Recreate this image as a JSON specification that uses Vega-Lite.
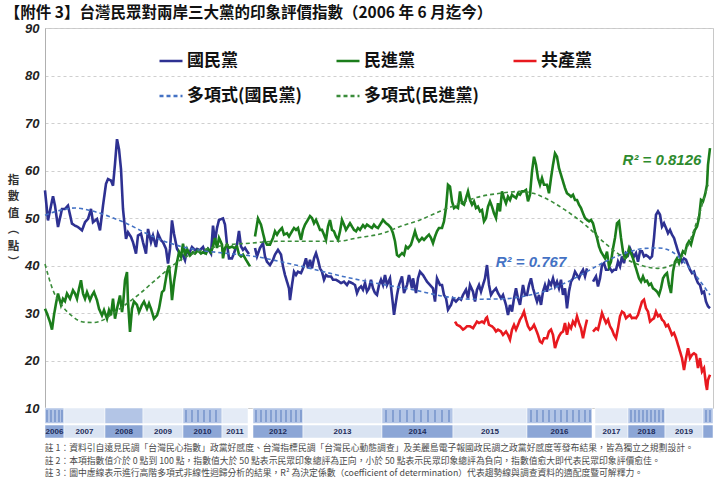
{
  "$schema": "https://vega.github.io/schema/vega-lite/v6.json",
  "background": "white",
  "padding": {"left": 4, "top": 6, "right": 0, "bottom": 0},
  "bounds": "flush",
  "spacing": 0,
  "title": {
    "text": "【附件 3】台灣民眾對兩岸三大黨的印象評價指數（2006 年 6 月迄今）",
    "anchor": "start",
    "fontSize": 15.5,
    "fontWeight": "bold",
    "color": "#111111",
    "font": "Noto Sans CJK TC",
    "offset": 0,
    "dx": -2
  },
  "datasets": {
    "obs": [
      {"i":0,"v":55.8,"s":"國民黨","g":"K1"},{"i":3,"v":49.5,"s":"國民黨","g":"K1"},{"i":8,"v":54.6,"s":"國民黨","g":"K1"},{"i":10,"v":52.6,"s":"國民黨","g":"K1"},{"i":13,"v":48.1,"s":"國民黨","g":"K1"},{"i":17,"v":51.9,"s":"國民黨","g":"K1"},{"i":20,"v":51.9,"s":"國民黨","g":"K1"},{"i":23,"v":52.6,"s":"國民黨","g":"K1"},{"i":27,"v":48.8,"s":"國民黨","g":"K1"},{"i":30,"v":48.4,"s":"國民黨","g":"K1"},{"i":33,"v":48.1,"s":"國民黨","g":"K1"},{"i":37,"v":47.4,"s":"國民黨","g":"K1"},{"i":40,"v":49.1,"s":"國民黨","g":"K1"},{"i":43,"v":49.8,"s":"國民黨","g":"K1"},{"i":46,"v":51.9,"s":"國民黨","g":"K1"},{"i":48,"v":49.1,"s":"國民黨","g":"K1"},{"i":52,"v":49.8,"s":"國民黨","g":"K1"},{"i":55,"v":47.4,"s":"國民黨","g":"K1"},{"i":58,"v":52.6,"s":"國民黨","g":"K1"},{"i":61,"v":57.2,"s":"國民黨","g":"K1"},{"i":63,"v":58.2,"s":"國民黨","g":"K1"},{"i":66,"v":57.9,"s":"國民黨","g":"K1"},{"i":68,"v":56.8,"s":"國民黨","g":"K1"},{"i":70,"v":61.4,"s":"國民黨","g":"K1"},{"i":72,"v":66.6,"s":"國民黨","g":"K1"},{"i":74,"v":64.5,"s":"國民黨","g":"K1"},{"i":76,"v":60.3,"s":"國民黨","g":"K1"},{"i":78,"v":51.9,"s":"國民黨","g":"K1"},{"i":81,"v":45.6,"s":"國民黨","g":"K1"},{"i":83,"v":47.0,"s":"國民黨","g":"K1"},{"i":86,"v":46.0,"s":"國民黨","g":"K1"},{"i":88,"v":44.9,"s":"國民黨","g":"K1"},{"i":91,"v":42.5,"s":"國民黨","g":"K1"},{"i":93,"v":46.3,"s":"國民黨","g":"K1"},{"i":96,"v":46.7,"s":"國民黨","g":"K1"},{"i":98,"v":44.9,"s":"國民黨","g":"K1"},{"i":101,"v":42.5,"s":"國民黨","g":"K1"},{"i":103,"v":47.7,"s":"國民黨","g":"K1"},{"i":106,"v":44.9,"s":"國民黨","g":"K1"},{"i":108,"v":46.3,"s":"國民黨","g":"K1"},{"i":111,"v":43.9,"s":"國民黨","g":"K1"},{"i":113,"v":46.7,"s":"國民黨","g":"K1"},{"i":116,"v":45.3,"s":"國民黨","g":"K1"},{"i":118,"v":44.9,"s":"國民黨","g":"K1"},{"i":121,"v":43.5,"s":"國民黨","g":"K1"},{"i":123,"v":40.4,"s":"國民黨","g":"K1"},{"i":125,"v":43.5,"s":"國民黨","g":"K1"},{"i":127,"v":49.5,"s":"國民黨","g":"K1"},{"i":129,"v":46.7,"s":"國民黨","g":"K1"},{"i":132,"v":43.5,"s":"國民黨","g":"K1"},{"i":135,"v":42.5,"s":"國民黨","g":"K1"},{"i":138,"v":42.1,"s":"國民黨","g":"K1"},{"i":140,"v":41.1,"s":"國民黨","g":"K1"},{"i":142,"v":43.2,"s":"國民黨","g":"K1"},{"i":144,"v":42.5,"s":"國民黨","g":"K1"},{"i":147,"v":43.9,"s":"國民黨","g":"K1"},{"i":150,"v":43.2,"s":"國民黨","g":"K1"},{"i":152,"v":43.5,"s":"國民黨","g":"K1"},{"i":155,"v":43.2,"s":"國民黨","g":"K1"},{"i":158,"v":43.9,"s":"國民黨","g":"K1"},{"i":160,"v":42.8,"s":"國民黨","g":"K1"},{"i":163,"v":43.5,"s":"國民黨","g":"K1"},{"i":166,"v":42.5,"s":"國民黨","g":"K1"},{"i":168,"v":48.4,"s":"國民黨","g":"K1"},{"i":170,"v":45.1,"s":"國民黨","g":"K1"},{"i":172,"v":47.9,"s":"國民黨","g":"K1"},{"i":174,"v":49.6,"s":"國民黨","g":"K1"},{"i":178,"v":49.9,"s":"國民黨","g":"K1"},{"i":180,"v":48.6,"s":"國民黨","g":"K1"},{"i":182,"v":44.4,"s":"國民黨","g":"K1"},{"i":184,"v":41.5,"s":"國民黨","g":"K1"},{"i":187,"v":41.5,"s":"國民黨","g":"K1"},{"i":189,"v":42.6,"s":"國民黨","g":"K1"},{"i":192,"v":44.4,"s":"國民黨","g":"K1"},{"i":194,"v":47.3,"s":"國民黨","g":"K1"},{"i":196,"v":44.0,"s":"國民黨","g":"K1"},{"i":198,"v":43.3,"s":"國民黨","g":"K1"},{"i":200,"v":43.7,"s":"國民黨","g":"K1"},{"i":202,"v":43.0,"s":"國民黨","g":"K1"},{"i":204,"v":42.4,"s":"國民黨","g":"K1"},
      {"i":210,"v":43.7,"s":"國民黨","g":"K2"},{"i":212,"v":41.9,"s":"國民黨","g":"K2"},{"i":215,"v":43.7,"s":"國民黨","g":"K2"},{"i":218,"v":44.7,"s":"國民黨","g":"K2"},{"i":220,"v":41.9,"s":"國民黨","g":"K2"},{"i":222,"v":40.8,"s":"國民黨","g":"K2"},{"i":225,"v":40.1,"s":"國民黨","g":"K2"},{"i":228,"v":41.2,"s":"國民黨","g":"K2"},{"i":230,"v":42.3,"s":"國民黨","g":"K2"},{"i":233,"v":43.3,"s":"國民黨","g":"K2"},{"i":236,"v":42.3,"s":"國民黨","g":"K2"},{"i":238,"v":39.8,"s":"國民黨","g":"K2"},{"i":240,"v":38.0,"s":"國民黨","g":"K2"},{"i":242,"v":36.6,"s":"國民黨","g":"K2"},{"i":244,"v":35.2,"s":"國民黨","g":"K2"},{"i":245,"v":32.7,"s":"國民黨","g":"K2"},{"i":247,"v":35.9,"s":"國民黨","g":"K2"},{"i":249,"v":38.7,"s":"國民黨","g":"K2"},{"i":251,"v":38.0,"s":"國民黨","g":"K2"},{"i":253,"v":38.7,"s":"國民黨","g":"K2"},{"i":256,"v":38.4,"s":"國民黨","g":"K2"},{"i":258,"v":39.4,"s":"國民黨","g":"K2"},{"i":261,"v":41.5,"s":"國民黨","g":"K2"},{"i":263,"v":39.4,"s":"國民黨","g":"K2"},{"i":265,"v":41.2,"s":"國民黨","g":"K2"},{"i":267,"v":39.4,"s":"國民黨","g":"K2"},{"i":269,"v":41.5,"s":"國民黨","g":"K2"},{"i":271,"v":42.6,"s":"國民黨","g":"K2"},{"i":273,"v":41.2,"s":"國民黨","g":"K2"},{"i":275,"v":39.4,"s":"國民黨","g":"K2"},{"i":277,"v":38.7,"s":"國民黨","g":"K2"},{"i":279,"v":37.0,"s":"國民黨","g":"K2"},{"i":281,"v":38.0,"s":"國民黨","g":"K2"},{"i":283,"v":37.7,"s":"國民黨","g":"K2"},{"i":286,"v":37.7,"s":"國民黨","g":"K2"},{"i":288,"v":37.0,"s":"國民黨","g":"K2"},{"i":291,"v":37.0,"s":"國民黨","g":"K2"},{"i":294,"v":36.6,"s":"國民黨","g":"K2"},{"i":296,"v":36.3,"s":"國民黨","g":"K2"},{"i":299,"v":36.6,"s":"國民黨","g":"K2"},{"i":302,"v":35.9,"s":"國民黨","g":"K2"},{"i":304,"v":36.6,"s":"國民黨","g":"K2"},{"i":307,"v":36.3,"s":"國民黨","g":"K2"},{"i":310,"v":35.9,"s":"國民黨","g":"K2"},{"i":312,"v":34.2,"s":"國民黨","g":"K2"},{"i":314,"v":35.2,"s":"國民黨","g":"K2"},{"i":316,"v":35.6,"s":"國民黨","g":"K2"},{"i":318,"v":34.9,"s":"國民黨","g":"K2"},{"i":320,"v":36.3,"s":"國民黨","g":"K2"},{"i":322,"v":34.5,"s":"國民黨","g":"K2"},{"i":324,"v":35.2,"s":"國民黨","g":"K2"},{"i":326,"v":37.0,"s":"國民黨","g":"K2"},{"i":328,"v":35.2,"s":"國民黨","g":"K2"},{"i":330,"v":34.2,"s":"國民黨","g":"K2"},{"i":332,"v":33.8,"s":"國民黨","g":"K2"},{"i":334,"v":35.9,"s":"國民黨","g":"K2"},{"i":336,"v":37.0,"s":"國民黨","g":"K2"},{"i":338,"v":35.9,"s":"國民黨","g":"K2"},{"i":340,"v":38.0,"s":"國民黨","g":"K2"},{"i":342,"v":35.9,"s":"國民黨","g":"K2"},{"i":345,"v":37.3,"s":"國民黨","g":"K2"},{"i":348,"v":31.7,"s":"國民黨","g":"K2"},{"i":349,"v":29.6,"s":"國民黨","g":"K2"},{"i":352,"v":33.8,"s":"國民黨","g":"K2"},{"i":354,"v":35.9,"s":"國民黨","g":"K2"},{"i":357,"v":37.7,"s":"國民黨","g":"K2"},{"i":359,"v":34.2,"s":"國民黨","g":"K2"},{"i":362,"v":35.9,"s":"國民黨","g":"K2"},{"i":364,"v":38.0,"s":"國民黨","g":"K2"},{"i":367,"v":35.2,"s":"國民黨","g":"K2"},{"i":368,"v":37.3,"s":"國民黨","g":"K2"},{"i":371,"v":34.2,"s":"國民黨","g":"K2"},{"i":373,"v":37.3,"s":"國民黨","g":"K2"},{"i":375,"v":38.7,"s":"國民黨","g":"K2"},{"i":378,"v":38.0,"s":"國民黨","g":"K2"},{"i":380,"v":37.3,"s":"國民黨","g":"K2"},{"i":382,"v":36.6,"s":"國民黨","g":"K2"},{"i":385,"v":35.9,"s":"國民黨","g":"K2"},{"i":388,"v":35.2,"s":"國民黨","g":"K2"},{"i":390,"v":32.4,"s":"國民黨","g":"K2"},{"i":392,"v":37.3,"s":"國民黨","g":"K2"},{"i":395,"v":35.9,"s":"國民黨","g":"K2"},{"i":397,"v":35.9,"s":"國民黨","g":"K2"},{"i":399,"v":33.8,"s":"國民黨","g":"K2"},{"i":401,"v":33.1,"s":"國民黨","g":"K2"},{"i":403,"v":30.7,"s":"國民黨","g":"K2"},{"i":406,"v":31.7,"s":"國民黨","g":"K2"},{"i":408,"v":33.1,"s":"國民黨","g":"K2"},{"i":411,"v":32.4,"s":"國民黨","g":"K2"},{"i":414,"v":33.1,"s":"國民黨","g":"K2"},{"i":416,"v":32.8,"s":"國民黨","g":"K2"},{"i":418,"v":33.8,"s":"國民黨","g":"K2"},{"i":421,"v":34.9,"s":"國民黨","g":"K2"},{"i":423,"v":33.1,"s":"國民黨","g":"K2"},{"i":425,"v":35.9,"s":"國民黨","g":"K2"},{"i":428,"v":34.5,"s":"國民黨","g":"K2"},{"i":430,"v":32.4,"s":"國民黨","g":"K2"},{"i":432,"v":34.9,"s":"國民黨","g":"K2"},{"i":434,"v":35.9,"s":"國民黨","g":"K2"},{"i":436,"v":34.5,"s":"國民黨","g":"K2"},{"i":438,"v":35.9,"s":"國民黨","g":"K2"},{"i":440,"v":37.3,"s":"國民黨","g":"K2"},{"i":442,"v":40.1,"s":"國民黨","g":"K2"},{"i":444,"v":35.9,"s":"國民黨","g":"K2"},{"i":446,"v":33.8,"s":"國民黨","g":"K2"},{"i":448,"v":34.5,"s":"國民黨","g":"K2"},{"i":451,"v":35.2,"s":"國民黨","g":"K2"},{"i":453,"v":34.2,"s":"國民黨","g":"K2"},{"i":456,"v":33.1,"s":"國民黨","g":"K2"},{"i":458,"v":33.8,"s":"國民黨","g":"K2"},{"i":461,"v":31.7,"s":"國民黨","g":"K2"},{"i":463,"v":29.6,"s":"國民黨","g":"K2"},{"i":465,"v":31.7,"s":"國民黨","g":"K2"},{"i":467,"v":30.3,"s":"國民黨","g":"K2"},{"i":469,"v":33.1,"s":"國民黨","g":"K2"},{"i":471,"v":35.2,"s":"國民黨","g":"K2"},{"i":473,"v":33.1,"s":"國民黨","g":"K2"},{"i":475,"v":31.7,"s":"國民黨","g":"K2"},{"i":478,"v":35.9,"s":"國民黨","g":"K2"},{"i":480,"v":33.8,"s":"國民黨","g":"K2"},{"i":482,"v":33.8,"s":"國民黨","g":"K2"},{"i":484,"v":35.9,"s":"國民黨","g":"K2"},{"i":486,"v":37.3,"s":"國民黨","g":"K2"},{"i":488,"v":35.2,"s":"國民黨","g":"K2"},{"i":490,"v":33.8,"s":"國民黨","g":"K2"},{"i":492,"v":32.4,"s":"國民黨","g":"K2"},{"i":494,"v":33.8,"s":"國民黨","g":"K2"},{"i":496,"v":31.7,"s":"國民黨","g":"K2"},{"i":498,"v":34.5,"s":"國民黨","g":"K2"},{"i":500,"v":35.9,"s":"國民黨","g":"K2"},{"i":502,"v":34.5,"s":"國民黨","g":"K2"},{"i":504,"v":36.6,"s":"國民黨","g":"K2"},{"i":506,"v":35.9,"s":"國民黨","g":"K2"},{"i":508,"v":37.3,"s":"國民黨","g":"K2"},{"i":510,"v":35.6,"s":"國民黨","g":"K2"},{"i":512,"v":36.6,"s":"國民黨","g":"K2"},{"i":514,"v":35.2,"s":"國民黨","g":"K2"},{"i":516,"v":37.0,"s":"國民黨","g":"K2"},{"i":518,"v":33.8,"s":"國民黨","g":"K2"},{"i":520,"v":35.2,"s":"國民黨","g":"K2"},{"i":522,"v":31.0,"s":"國民黨","g":"K2"},{"i":524,"v":34.5,"s":"國民黨","g":"K2"},{"i":526,"v":36.6,"s":"國民黨","g":"K2"},{"i":528,"v":37.3,"s":"國民黨","g":"K2"},{"i":530,"v":38.7,"s":"國民黨","g":"K2"},{"i":532,"v":38.0,"s":"國民黨","g":"K2"},{"i":534,"v":37.3,"s":"國民黨","g":"K2"},{"i":536,"v":38.4,"s":"國民黨","g":"K2"},{"i":538,"v":39.1,"s":"國民黨","g":"K2"},{"i":540,"v":37.7,"s":"國民黨","g":"K2"},{"i":542,"v":39.4,"s":"國民黨","g":"K2"},
      {"i":548,"v":36.6,"s":"國民黨","g":"K3"},{"i":551,"v":37.7,"s":"國民黨","g":"K3"},{"i":553,"v":35.6,"s":"國民黨","g":"K3"},{"i":555,"v":37.3,"s":"國民黨","g":"K3"},{"i":557,"v":40.1,"s":"國民黨","g":"K3"},{"i":559,"v":40.5,"s":"國民黨","g":"K3"},{"i":561,"v":39.1,"s":"國民黨","g":"K3"},{"i":563,"v":39.1,"s":"國民黨","g":"K3"},{"i":565,"v":39.4,"s":"國民黨","g":"K3"},{"i":567,"v":38.7,"s":"國民黨","g":"K3"},{"i":569,"v":39.1,"s":"國民黨","g":"K3"},{"i":571,"v":39.1,"s":"國民黨","g":"K3"},{"i":573,"v":40.8,"s":"國民黨","g":"K3"},{"i":575,"v":39.8,"s":"國民黨","g":"K3"},{"i":577,"v":41.9,"s":"國民黨","g":"K3"},{"i":579,"v":40.5,"s":"國民黨","g":"K3"},{"i":581,"v":42.6,"s":"國民黨","g":"K3"},{"i":583,"v":42.2,"s":"國民黨","g":"K3"},{"i":585,"v":43.6,"s":"國民黨","g":"K3"},{"i":587,"v":42.6,"s":"國民黨","g":"K3"},{"i":589,"v":41.9,"s":"國民黨","g":"K3"},{"i":591,"v":42.6,"s":"國民黨","g":"K3"},{"i":593,"v":40.8,"s":"國民黨","g":"K3"},{"i":595,"v":43.0,"s":"國民黨","g":"K3"},{"i":597,"v":43.0,"s":"國民黨","g":"K3"},{"i":599,"v":41.9,"s":"國民黨","g":"K3"},{"i":601,"v":42.2,"s":"國民黨","g":"K3"},{"i":603,"v":41.9,"s":"國民黨","g":"K3"},{"i":605,"v":41.5,"s":"國民黨","g":"K3"},{"i":607,"v":41.9,"s":"國民黨","g":"K3"},{"i":609,"v":45.8,"s":"國民黨","g":"K3"},{"i":611,"v":50.7,"s":"國民黨","g":"K3"},{"i":613,"v":51.4,"s":"國民黨","g":"K3"},{"i":615,"v":50.7,"s":"國民黨","g":"K3"},{"i":617,"v":48.2,"s":"國民黨","g":"K3"},{"i":619,"v":48.9,"s":"國民黨","g":"K3"},{"i":621,"v":47.9,"s":"國民黨","g":"K3"},{"i":623,"v":46.8,"s":"國民黨","g":"K3"},{"i":625,"v":47.5,"s":"國民黨","g":"K3"},{"i":627,"v":46.5,"s":"國民黨","g":"K3"},{"i":629,"v":45.8,"s":"國民黨","g":"K3"},{"i":631,"v":44.4,"s":"國民黨","g":"K3"},{"i":633,"v":43.0,"s":"國民黨","g":"K3"},{"i":635,"v":41.9,"s":"國民黨","g":"K3"},{"i":637,"v":40.8,"s":"國民黨","g":"K3"},{"i":639,"v":41.5,"s":"國民黨","g":"K3"},{"i":641,"v":41.2,"s":"國民黨","g":"K3"},{"i":643,"v":40.1,"s":"國民黨","g":"K3"},{"i":645,"v":39.1,"s":"國民黨","g":"K3"},{"i":647,"v":38.4,"s":"國民黨","g":"K3"},{"i":649,"v":38.7,"s":"國民黨","g":"K3"},{"i":651,"v":37.3,"s":"國民黨","g":"K3"},{"i":653,"v":36.3,"s":"國民黨","g":"K3"},{"i":655,"v":35.9,"s":"國民黨","g":"K3"},{"i":657,"v":34.2,"s":"國民黨","g":"K3"},{"i":659,"v":34.5,"s":"國民黨","g":"K3"},{"i":661,"v":32.4,"s":"國民黨","g":"K3"},{"i":663,"v":31.4,"s":"國民黨","g":"K3"},{"i":665,"v":31.0,"s":"國民黨","g":"K3"},
      {"i":0,"v":30.9,"s":"民進黨","g":"D1"},{"i":2,"v":29.9,"s":"民進黨","g":"D1"},{"i":5,"v":28.1,"s":"民進黨","g":"D1"},{"i":7,"v":26.5,"s":"民進黨","g":"D1"},{"i":9,"v":29.6,"s":"民進黨","g":"D1"},{"i":11,"v":32.0,"s":"民進黨","g":"D1"},{"i":13,"v":34.1,"s":"民進黨","g":"D1"},{"i":16,"v":31.7,"s":"民進黨","g":"D1"},{"i":18,"v":33.0,"s":"民進黨","g":"D1"},{"i":20,"v":32.5,"s":"民進黨","g":"D1"},{"i":22,"v":34.1,"s":"民進黨","g":"D1"},{"i":25,"v":33.0,"s":"民進黨","g":"D1"},{"i":28,"v":34.8,"s":"民進黨","g":"D1"},{"i":30,"v":34.1,"s":"民進黨","g":"D1"},{"i":32,"v":33.0,"s":"民進黨","g":"D1"},{"i":34,"v":35.1,"s":"民進黨","g":"D1"},{"i":36,"v":36.9,"s":"民進黨","g":"D1"},{"i":38,"v":34.1,"s":"民進黨","g":"D1"},{"i":40,"v":33.0,"s":"民進黨","g":"D1"},{"i":42,"v":34.4,"s":"民進黨","g":"D1"},{"i":45,"v":32.7,"s":"民進黨","g":"D1"},{"i":47,"v":33.7,"s":"民進黨","g":"D1"},{"i":49,"v":34.4,"s":"民進黨","g":"D1"},{"i":52,"v":32.7,"s":"民進黨","g":"D1"},{"i":54,"v":30.9,"s":"民進黨","g":"D1"},{"i":57,"v":29.5,"s":"民進黨","g":"D1"},{"i":59,"v":30.6,"s":"民進黨","g":"D1"},{"i":62,"v":28.8,"s":"民進黨","g":"D1"},{"i":64,"v":30.6,"s":"民進黨","g":"D1"},{"i":66,"v":29.5,"s":"民進黨","g":"D1"},{"i":68,"v":33.0,"s":"民進黨","g":"D1"},{"i":70,"v":28.8,"s":"民進黨","g":"D1"},{"i":72,"v":30.9,"s":"民進黨","g":"D1"},{"i":75,"v":33.7,"s":"民進黨","g":"D1"},{"i":77,"v":30.2,"s":"民進黨","g":"D1"},{"i":78,"v":31.7,"s":"民進黨","g":"D1"},{"i":80,"v":36.9,"s":"民進黨","g":"D1"},{"i":82,"v":38.6,"s":"民進黨","g":"D1"},{"i":83,"v":32.4,"s":"民進黨","g":"D1"},{"i":85,"v":26.0,"s":"民進黨","g":"D1"},{"i":87,"v":30.9,"s":"民進黨","g":"D1"},{"i":89,"v":32.4,"s":"民進黨","g":"D1"},{"i":92,"v":31.7,"s":"民進黨","g":"D1"},{"i":94,"v":30.2,"s":"民進黨","g":"D1"},{"i":97,"v":31.7,"s":"民進黨","g":"D1"},{"i":99,"v":32.4,"s":"民進黨","g":"D1"},{"i":102,"v":30.9,"s":"民進黨","g":"D1"},{"i":104,"v":32.0,"s":"民進黨","g":"D1"},{"i":106,"v":30.9,"s":"民進黨","g":"D1"},{"i":109,"v":28.8,"s":"民進黨","g":"D1"},{"i":112,"v":29.5,"s":"民進黨","g":"D1"},{"i":114,"v":30.9,"s":"民進黨","g":"D1"},{"i":117,"v":34.4,"s":"民進黨","g":"D1"},{"i":119,"v":34.8,"s":"民進黨","g":"D1"},{"i":122,"v":38.6,"s":"民進黨","g":"D1"},{"i":124,"v":40.0,"s":"民進黨","g":"D1"},{"i":126,"v":35.8,"s":"民進黨","g":"D1"},{"i":127,"v":32.7,"s":"民進黨","g":"D1"},{"i":129,"v":36.5,"s":"民進黨","g":"D1"},{"i":132,"v":40.7,"s":"民進黨","g":"D1"},{"i":134,"v":42.8,"s":"民進黨","g":"D1"},{"i":136,"v":41.8,"s":"民進黨","g":"D1"},{"i":138,"v":44.6,"s":"民進黨","g":"D1"},{"i":140,"v":42.1,"s":"民進黨","g":"D1"},{"i":142,"v":43.5,"s":"民進黨","g":"D1"},{"i":145,"v":42.1,"s":"民進黨","g":"D1"},{"i":148,"v":42.8,"s":"民進黨","g":"D1"},{"i":150,"v":42.5,"s":"民進黨","g":"D1"},{"i":153,"v":43.2,"s":"民進黨","g":"D1"},{"i":156,"v":42.5,"s":"民進黨","g":"D1"},{"i":158,"v":42.8,"s":"民進黨","g":"D1"},{"i":161,"v":42.5,"s":"民進黨","g":"D1"},{"i":163,"v":43.5,"s":"民進黨","g":"D1"},{"i":166,"v":42.8,"s":"民進黨","g":"D1"},{"i":168,"v":44.0,"s":"民進黨","g":"D1"},{"i":170,"v":45.8,"s":"民進黨","g":"D1"},{"i":172,"v":43.7,"s":"民進黨","g":"D1"},{"i":174,"v":45.8,"s":"民進黨","g":"D1"},{"i":177,"v":44.4,"s":"民進黨","g":"D1"},{"i":178,"v":41.5,"s":"民進黨","g":"D1"},{"i":180,"v":43.7,"s":"民進黨","g":"D1"},{"i":182,"v":44.4,"s":"民進黨","g":"D1"},{"i":184,"v":43.7,"s":"民進黨","g":"D1"},{"i":187,"v":44.0,"s":"民進黨","g":"D1"},{"i":189,"v":43.7,"s":"民進黨","g":"D1"},{"i":192,"v":44.0,"s":"民進黨","g":"D1"},{"i":194,"v":42.3,"s":"民進黨","g":"D1"},{"i":196,"v":41.9,"s":"民進黨","g":"D1"},{"i":198,"v":42.3,"s":"民進黨","g":"D1"},{"i":201,"v":41.2,"s":"民進黨","g":"D1"},{"i":203,"v":40.5,"s":"民進黨","g":"D1"},{"i":205,"v":39.8,"s":"民進黨","g":"D1"},
      {"i":210,"v":46.1,"s":"民進黨","g":"D2"},{"i":213,"v":49.9,"s":"民進黨","g":"D2"},{"i":216,"v":48.6,"s":"民進黨","g":"D2"},{"i":218,"v":46.8,"s":"民進黨","g":"D2"},{"i":220,"v":45.1,"s":"民進黨","g":"D2"},{"i":222,"v":44.4,"s":"民進黨","g":"D2"},{"i":225,"v":44.4,"s":"民進黨","g":"D2"},{"i":228,"v":45.8,"s":"民進黨","g":"D2"},{"i":230,"v":47.2,"s":"民進黨","g":"D2"},{"i":232,"v":46.5,"s":"民進黨","g":"D2"},{"i":234,"v":47.2,"s":"民進黨","g":"D2"},{"i":237,"v":47.9,"s":"民進黨","g":"D2"},{"i":239,"v":46.5,"s":"民進黨","g":"D2"},{"i":242,"v":46.8,"s":"民進黨","g":"D2"},{"i":244,"v":46.1,"s":"民進黨","g":"D2"},{"i":247,"v":47.2,"s":"民進黨","g":"D2"},{"i":249,"v":47.9,"s":"民進黨","g":"D2"},{"i":251,"v":47.5,"s":"民進黨","g":"D2"},{"i":253,"v":47.9,"s":"民進黨","g":"D2"},{"i":256,"v":45.4,"s":"民進黨","g":"D2"},{"i":258,"v":47.5,"s":"民進黨","g":"D2"},{"i":260,"v":48.6,"s":"民進黨","g":"D2"},{"i":262,"v":49.3,"s":"民進黨","g":"D2"},{"i":265,"v":50.4,"s":"民進黨","g":"D2"},{"i":267,"v":50.0,"s":"民進黨","g":"D2"},{"i":269,"v":48.9,"s":"民進黨","g":"D2"},{"i":271,"v":49.6,"s":"民進黨","g":"D2"},{"i":273,"v":48.6,"s":"民進黨","g":"D2"},{"i":275,"v":47.5,"s":"民進黨","g":"D2"},{"i":277,"v":47.5,"s":"民進黨","g":"D2"},{"i":279,"v":46.5,"s":"民進黨","g":"D2"},{"i":281,"v":45.4,"s":"民進黨","g":"D2"},{"i":283,"v":48.2,"s":"民進黨","g":"D2"},{"i":285,"v":49.6,"s":"民進黨","g":"D2"},{"i":287,"v":47.5,"s":"民進黨","g":"D2"},{"i":289,"v":47.2,"s":"民進黨","g":"D2"},{"i":291,"v":46.1,"s":"民進黨","g":"D2"},{"i":293,"v":45.4,"s":"民進黨","g":"D2"},{"i":295,"v":47.2,"s":"民進黨","g":"D2"},{"i":297,"v":49.6,"s":"民進黨","g":"D2"},{"i":299,"v":48.6,"s":"民進黨","g":"D2"},{"i":301,"v":47.5,"s":"民進黨","g":"D2"},{"i":303,"v":48.2,"s":"民進黨","g":"D2"},{"i":305,"v":48.9,"s":"民進黨","g":"D2"},{"i":307,"v":48.2,"s":"民進黨","g":"D2"},{"i":309,"v":47.5,"s":"民進黨","g":"D2"},{"i":311,"v":47.2,"s":"民進黨","g":"D2"},{"i":313,"v":47.9,"s":"民進黨","g":"D2"},{"i":315,"v":47.5,"s":"民進黨","g":"D2"},{"i":318,"v":48.5,"s":"民進黨","g":"D2"},{"i":320,"v":48.0,"s":"民進黨","g":"D2"},{"i":322,"v":48.6,"s":"民進黨","g":"D2"},{"i":324,"v":48.3,"s":"民進黨","g":"D2"},{"i":327,"v":47.9,"s":"民進黨","g":"D2"},{"i":329,"v":48.6,"s":"民進黨","g":"D2"},{"i":331,"v":48.1,"s":"民進黨","g":"D2"},{"i":333,"v":47.9,"s":"民進黨","g":"D2"},{"i":336,"v":48.9,"s":"民進黨","g":"D2"},{"i":338,"v":49.6,"s":"民進黨","g":"D2"},{"i":341,"v":48.9,"s":"民進黨","g":"D2"},{"i":343,"v":48.6,"s":"民進黨","g":"D2"},{"i":346,"v":47.9,"s":"民進黨","g":"D2"},{"i":348,"v":46.8,"s":"民進黨","g":"D2"},{"i":350,"v":45.1,"s":"民進黨","g":"D2"},{"i":352,"v":42.2,"s":"民進黨","g":"D2"},{"i":354,"v":41.9,"s":"民進黨","g":"D2"},{"i":357,"v":42.6,"s":"民進黨","g":"D2"},{"i":359,"v":42.2,"s":"民進黨","g":"D2"},{"i":361,"v":44.0,"s":"民進黨","g":"D2"},{"i":363,"v":43.6,"s":"民進黨","g":"D2"},{"i":366,"v":44.4,"s":"民進黨","g":"D2"},{"i":368,"v":45.8,"s":"民進黨","g":"D2"},{"i":370,"v":47.2,"s":"民進黨","g":"D2"},{"i":372,"v":45.8,"s":"民進黨","g":"D2"},{"i":374,"v":45.1,"s":"民進黨","g":"D2"},{"i":377,"v":45.8,"s":"民進黨","g":"D2"},{"i":379,"v":45.4,"s":"民進黨","g":"D2"},{"i":382,"v":46.1,"s":"民進黨","g":"D2"},{"i":384,"v":46.5,"s":"民進黨","g":"D2"},{"i":386,"v":45.8,"s":"民進黨","g":"D2"},{"i":388,"v":44.7,"s":"民進黨","g":"D2"},{"i":390,"v":46.1,"s":"民進黨","g":"D2"},{"i":392,"v":47.2,"s":"民進黨","g":"D2"},{"i":394,"v":47.9,"s":"民進黨","g":"D2"},{"i":397,"v":47.9,"s":"民進黨","g":"D2"},{"i":399,"v":49.3,"s":"民進黨","g":"D2"},{"i":401,"v":52.1,"s":"民進黨","g":"D2"},{"i":403,"v":57.0,"s":"民進黨","g":"D2"},{"i":405,"v":56.6,"s":"民進黨","g":"D2"},{"i":407,"v":53.5,"s":"民進黨","g":"D2"},{"i":409,"v":52.1,"s":"民進黨","g":"D2"},{"i":411,"v":52.4,"s":"民進黨","g":"D2"},{"i":413,"v":52.1,"s":"民進黨","g":"D2"},{"i":415,"v":55.6,"s":"民進黨","g":"D2"},{"i":417,"v":53.1,"s":"民進黨","g":"D2"},{"i":419,"v":52.8,"s":"民進黨","g":"D2"},{"i":421,"v":54.2,"s":"民進黨","g":"D2"},{"i":423,"v":55.6,"s":"民進黨","g":"D2"},{"i":425,"v":53.8,"s":"民進黨","g":"D2"},{"i":427,"v":52.8,"s":"民進黨","g":"D2"},{"i":429,"v":53.5,"s":"民進黨","g":"D2"},{"i":431,"v":52.1,"s":"民進黨","g":"D2"},{"i":433,"v":52.4,"s":"民進黨","g":"D2"},{"i":435,"v":51.4,"s":"民進黨","g":"D2"},{"i":437,"v":51.7,"s":"民進黨","g":"D2"},{"i":439,"v":49.3,"s":"民進黨","g":"D2"},{"i":441,"v":50.0,"s":"民進黨","g":"D2"},{"i":443,"v":52.4,"s":"民進黨","g":"D2"},{"i":445,"v":53.5,"s":"民進黨","g":"D2"},{"i":447,"v":52.4,"s":"民進黨","g":"D2"},{"i":449,"v":51.0,"s":"民進黨","g":"D2"},{"i":451,"v":50.0,"s":"民進黨","g":"D2"},{"i":453,"v":53.1,"s":"民進黨","g":"D2"},{"i":455,"v":51.4,"s":"民進黨","g":"D2"},{"i":457,"v":55.6,"s":"民進黨","g":"D2"},{"i":459,"v":54.2,"s":"民進黨","g":"D2"},{"i":461,"v":53.1,"s":"民進黨","g":"D2"},{"i":463,"v":54.5,"s":"民進黨","g":"D2"},{"i":465,"v":53.8,"s":"民進黨","g":"D2"},{"i":467,"v":54.9,"s":"民進黨","g":"D2"},{"i":469,"v":54.5,"s":"民進黨","g":"D2"},{"i":471,"v":54.2,"s":"民進黨","g":"D2"},{"i":473,"v":55.2,"s":"民進黨","g":"D2"},{"i":475,"v":54.9,"s":"民進黨","g":"D2"},{"i":477,"v":55.6,"s":"民進黨","g":"D2"},{"i":479,"v":55.6,"s":"民進黨","g":"D2"},{"i":481,"v":55.9,"s":"民進黨","g":"D2"},{"i":483,"v":53.5,"s":"民進黨","g":"D2"},{"i":485,"v":54.9,"s":"民進黨","g":"D2"},{"i":487,"v":59.8,"s":"民進黨","g":"D2"},{"i":489,"v":62.9,"s":"民進黨","g":"D2"},{"i":491,"v":61.2,"s":"民進黨","g":"D2"},{"i":493,"v":58.4,"s":"民進黨","g":"D2"},{"i":495,"v":57.0,"s":"民進黨","g":"D2"},{"i":497,"v":58.4,"s":"民進黨","g":"D2"},{"i":499,"v":57.0,"s":"民進黨","g":"D2"},{"i":502,"v":57.0,"s":"民進黨","g":"D2"},{"i":504,"v":55.2,"s":"民進黨","g":"D2"},{"i":506,"v":58.4,"s":"民進黨","g":"D2"},{"i":508,"v":61.2,"s":"民進黨","g":"D2"},{"i":510,"v":63.6,"s":"民進黨","g":"D2"},{"i":512,"v":62.9,"s":"民進黨","g":"D2"},{"i":514,"v":60.5,"s":"民進黨","g":"D2"},{"i":516,"v":59.1,"s":"民進黨","g":"D2"},{"i":518,"v":57.7,"s":"民進黨","g":"D2"},{"i":520,"v":56.3,"s":"民進黨","g":"D2"},{"i":522,"v":55.2,"s":"民進黨","g":"D2"},{"i":524,"v":54.9,"s":"民進黨","g":"D2"},{"i":526,"v":54.5,"s":"民進黨","g":"D2"},{"i":528,"v":54.9,"s":"民進黨","g":"D2"},{"i":530,"v":53.8,"s":"民進黨","g":"D2"},{"i":532,"v":53.8,"s":"民進黨","g":"D2"},{"i":534,"v":52.8,"s":"民進黨","g":"D2"},{"i":536,"v":52.1,"s":"民進黨","g":"D2"},{"i":538,"v":51.0,"s":"民進黨","g":"D2"},{"i":540,"v":50.0,"s":"民進黨","g":"D2"},{"i":542,"v":49.6,"s":"民進黨","g":"D2"},{"i":544,"v":49.3,"s":"民進黨","g":"D2"},{"i":546,"v":49.6,"s":"民進黨","g":"D2"},{"i":548,"v":48.9,"s":"民進黨","g":"D2"},{"i":550,"v":47.2,"s":"民進黨","g":"D2"},{"i":552,"v":45.8,"s":"民進黨","g":"D2"},{"i":554,"v":44.0,"s":"民進黨","g":"D2"},{"i":556,"v":42.9,"s":"民進黨","g":"D2"},{"i":558,"v":42.2,"s":"民進黨","g":"D2"},{"i":560,"v":41.5,"s":"民進黨","g":"D2"},{"i":562,"v":42.9,"s":"民進黨","g":"D2"},{"i":564,"v":39.8,"s":"民進黨","g":"D2"},{"i":566,"v":40.8,"s":"民進黨","g":"D2"},{"i":568,"v":43.6,"s":"民進黨","g":"D2"},{"i":570,"v":45.8,"s":"民進黨","g":"D2"},{"i":572,"v":48.9,"s":"民進黨","g":"D2"},{"i":574,"v":49.3,"s":"民進黨","g":"D2"},{"i":576,"v":45.8,"s":"民進黨","g":"D2"},{"i":578,"v":42.9,"s":"民進黨","g":"D2"},{"i":580,"v":41.5,"s":"民進黨","g":"D2"},{"i":582,"v":41.9,"s":"民進黨","g":"D2"},{"i":584,"v":43.6,"s":"民進黨","g":"D2"},{"i":586,"v":42.6,"s":"民進黨","g":"D2"},{"i":588,"v":41.5,"s":"民進黨","g":"D2"},{"i":590,"v":40.1,"s":"民進黨","g":"D2"},{"i":592,"v":38.7,"s":"民進黨","g":"D2"},{"i":594,"v":37.3,"s":"民進黨","g":"D2"},{"i":596,"v":36.6,"s":"民進黨","g":"D2"},{"i":598,"v":37.7,"s":"民進黨","g":"D2"},{"i":600,"v":36.6,"s":"民進黨","g":"D2"},{"i":602,"v":36.8,"s":"民進黨","g":"D2"},{"i":604,"v":35.9,"s":"民進黨","g":"D2"},{"i":606,"v":36.2,"s":"民進黨","g":"D2"},{"i":608,"v":35.2,"s":"民進黨","g":"D2"},{"i":610,"v":34.9,"s":"民進黨","g":"D2"},{"i":612,"v":34.5,"s":"民進黨","g":"D2"},{"i":614,"v":33.8,"s":"民進黨","g":"D2"},{"i":616,"v":35.2,"s":"民進黨","g":"D2"},{"i":618,"v":37.3,"s":"民進黨","g":"D2"},{"i":620,"v":38.0,"s":"民進黨","g":"D2"},{"i":622,"v":38.4,"s":"民進黨","g":"D2"},{"i":624,"v":35.9,"s":"民進黨","g":"D2"},{"i":626,"v":34.2,"s":"民進黨","g":"D2"},{"i":628,"v":38.7,"s":"民進黨","g":"D2"},{"i":630,"v":40.8,"s":"民進黨","g":"D2"},{"i":632,"v":41.5,"s":"民進黨","g":"D2"},{"i":634,"v":40.5,"s":"民進黨","g":"D2"},{"i":636,"v":41.9,"s":"民進黨","g":"D2"},{"i":638,"v":43.0,"s":"民進黨","g":"D2"},{"i":640,"v":42.6,"s":"民進黨","g":"D2"},{"i":642,"v":44.4,"s":"民進黨","g":"D2"},{"i":644,"v":45.1,"s":"民進黨","g":"D2"},{"i":646,"v":44.4,"s":"民進黨","g":"D2"},{"i":648,"v":46.1,"s":"民進黨","g":"D2"},{"i":650,"v":47.5,"s":"民進黨","g":"D2"},{"i":652,"v":48.2,"s":"民進黨","g":"D2"},{"i":654,"v":50.0,"s":"民進黨","g":"D2"},{"i":656,"v":53.8,"s":"民進黨","g":"D2"},{"i":658,"v":53.5,"s":"民進黨","g":"D2"},{"i":660,"v":54.9,"s":"民進黨","g":"D2"},{"i":662,"v":57.0,"s":"民進黨","g":"D2"},{"i":663,"v":61.2,"s":"民進黨","g":"D2"},{"i":665,"v":64.7,"s":"民進黨","g":"D2"},
      {"i":410,"v":28.2,"s":"共產黨","g":"C1"},{"i":412,"v":27.5,"s":"共產黨","g":"C1"},{"i":415,"v":27.2,"s":"共產黨","g":"C1"},{"i":418,"v":26.5,"s":"共產黨","g":"C1"},{"i":420,"v":26.8,"s":"共產黨","g":"C1"},{"i":422,"v":27.2,"s":"共產黨","g":"C1"},{"i":425,"v":27.2,"s":"共產黨","g":"C1"},{"i":428,"v":26.8,"s":"共產黨","g":"C1"},{"i":430,"v":27.5,"s":"共產黨","g":"C1"},{"i":432,"v":28.2,"s":"共產黨","g":"C1"},{"i":434,"v":27.9,"s":"共產黨","g":"C1"},{"i":437,"v":28.2,"s":"共產黨","g":"C1"},{"i":439,"v":27.9,"s":"共產黨","g":"C1"},{"i":441,"v":28.9,"s":"共產黨","g":"C1"},{"i":442,"v":29.1,"s":"共產黨","g":"C1"},{"i":444,"v":27.5,"s":"共產黨","g":"C1"},{"i":447,"v":27.2,"s":"共產黨","g":"C1"},{"i":449,"v":26.8,"s":"共產黨","g":"C1"},{"i":451,"v":26.1,"s":"共產黨","g":"C1"},{"i":453,"v":26.5,"s":"共產黨","g":"C1"},{"i":456,"v":26.1,"s":"共產黨","g":"C1"},{"i":458,"v":25.4,"s":"共產黨","g":"C1"},{"i":461,"v":26.1,"s":"共產黨","g":"C1"},{"i":463,"v":25.4,"s":"共產黨","g":"C1"},{"i":465,"v":24.4,"s":"共產黨","g":"C1"},{"i":467,"v":26.5,"s":"共產黨","g":"C1"},{"i":469,"v":27.5,"s":"共產黨","g":"C1"},{"i":471,"v":26.5,"s":"共產黨","g":"C1"},{"i":473,"v":27.5,"s":"共產黨","g":"C1"},{"i":475,"v":28.6,"s":"共產黨","g":"C1"},{"i":477,"v":29.3,"s":"共產黨","g":"C1"},{"i":479,"v":30.3,"s":"共產黨","g":"C1"},{"i":481,"v":28.6,"s":"共產黨","g":"C1"},{"i":483,"v":27.2,"s":"共產黨","g":"C1"},{"i":485,"v":26.5,"s":"共產黨","g":"C1"},{"i":487,"v":26.8,"s":"共產黨","g":"C1"},{"i":489,"v":27.5,"s":"共產黨","g":"C1"},{"i":491,"v":26.5,"s":"共產黨","g":"C1"},{"i":493,"v":25.4,"s":"共產黨","g":"C1"},{"i":495,"v":24.0,"s":"共產黨","g":"C1"},{"i":497,"v":23.7,"s":"共產黨","g":"C1"},{"i":499,"v":24.7,"s":"共產黨","g":"C1"},{"i":502,"v":24.7,"s":"共產黨","g":"C1"},{"i":504,"v":26.1,"s":"共產黨","g":"C1"},{"i":506,"v":26.5,"s":"共產黨","g":"C1"},{"i":508,"v":25.4,"s":"共產黨","g":"C1"},{"i":510,"v":22.6,"s":"共產黨","g":"C1"},{"i":512,"v":24.0,"s":"共產黨","g":"C1"},{"i":514,"v":25.1,"s":"共產黨","g":"C1"},{"i":516,"v":25.8,"s":"共產黨","g":"C1"},{"i":518,"v":26.1,"s":"共產黨","g":"C1"},{"i":520,"v":27.9,"s":"共產黨","g":"C1"},{"i":522,"v":25.4,"s":"共產黨","g":"C1"},{"i":524,"v":27.5,"s":"共產黨","g":"C1"},{"i":526,"v":26.8,"s":"共產黨","g":"C1"},{"i":528,"v":28.2,"s":"共產黨","g":"C1"},{"i":530,"v":27.5,"s":"共產黨","g":"C1"},{"i":532,"v":29.3,"s":"共產黨","g":"C1"},{"i":534,"v":27.9,"s":"共產黨","g":"C1"},{"i":536,"v":26.8,"s":"共產黨","g":"C1"},{"i":538,"v":24.7,"s":"共產黨","g":"C1"},{"i":540,"v":26.8,"s":"共產黨","g":"C1"},{"i":542,"v":28.6,"s":"共產黨","g":"C1"},
      {"i":548,"v":26.1,"s":"共產黨","g":"C2"},{"i":551,"v":26.8,"s":"共產黨","g":"C2"},{"i":553,"v":26.5,"s":"共產黨","g":"C2"},{"i":555,"v":28.2,"s":"共產黨","g":"C2"},{"i":557,"v":30.0,"s":"共產黨","g":"C2"},{"i":559,"v":28.9,"s":"共產黨","g":"C2"},{"i":561,"v":27.9,"s":"共產黨","g":"C2"},{"i":563,"v":28.6,"s":"共產黨","g":"C2"},{"i":565,"v":27.2,"s":"共產黨","g":"C2"},{"i":567,"v":26.5,"s":"共產黨","g":"C2"},{"i":569,"v":25.4,"s":"共產黨","g":"C2"},{"i":571,"v":24.7,"s":"共產黨","g":"C2"},{"i":573,"v":26.8,"s":"共產黨","g":"C2"},{"i":575,"v":29.3,"s":"共產黨","g":"C2"},{"i":577,"v":30.3,"s":"共產黨","g":"C2"},{"i":579,"v":30.0,"s":"共產黨","g":"C2"},{"i":581,"v":28.9,"s":"共產黨","g":"C2"},{"i":583,"v":29.3,"s":"共產黨","g":"C2"},{"i":585,"v":29.6,"s":"共產黨","g":"C2"},{"i":587,"v":28.9,"s":"共產黨","g":"C2"},{"i":589,"v":29.0,"s":"共產黨","g":"C2"},{"i":591,"v":28.9,"s":"共產黨","g":"C2"},{"i":593,"v":29.6,"s":"共產黨","g":"C2"},{"i":595,"v":31.0,"s":"共產黨","g":"C2"},{"i":597,"v":32.4,"s":"共產黨","g":"C2"},{"i":599,"v":32.8,"s":"共產黨","g":"C2"},{"i":601,"v":31.0,"s":"共產黨","g":"C2"},{"i":603,"v":30.3,"s":"共產黨","g":"C2"},{"i":605,"v":28.2,"s":"共產黨","g":"C2"},{"i":607,"v":28.6,"s":"共產黨","g":"C2"},{"i":609,"v":28.9,"s":"共產黨","g":"C2"},{"i":611,"v":30.3,"s":"共產黨","g":"C2"},{"i":613,"v":29.3,"s":"共產黨","g":"C2"},{"i":615,"v":29.6,"s":"共產黨","g":"C2"},{"i":617,"v":28.6,"s":"共產黨","g":"C2"},{"i":619,"v":28.2,"s":"共產黨","g":"C2"},{"i":621,"v":27.2,"s":"共產黨","g":"C2"},{"i":623,"v":27.5,"s":"共產黨","g":"C2"},{"i":625,"v":26.5,"s":"共產黨","g":"C2"},{"i":627,"v":25.4,"s":"共產黨","g":"C2"},{"i":629,"v":25.8,"s":"共產黨","g":"C2"},{"i":631,"v":24.7,"s":"共產黨","g":"C2"},{"i":633,"v":23.3,"s":"共產黨","g":"C2"},{"i":635,"v":21.9,"s":"共產黨","g":"C2"},{"i":637,"v":20.5,"s":"共產黨","g":"C2"},{"i":639,"v":18.0,"s":"共產黨","g":"C2"},{"i":641,"v":20.5,"s":"共產黨","g":"C2"},{"i":643,"v":22.6,"s":"共產黨","g":"C2"},{"i":645,"v":20.5,"s":"共產黨","g":"C2"},{"i":647,"v":21.2,"s":"共產黨","g":"C2"},{"i":649,"v":21.5,"s":"共產黨","g":"C2"},{"i":651,"v":21.2,"s":"共產黨","g":"C2"},{"i":653,"v":18.4,"s":"共產黨","g":"C2"},{"i":655,"v":20.5,"s":"共產黨","g":"C2"},{"i":657,"v":17.7,"s":"共產黨","g":"C2"},{"i":659,"v":18.4,"s":"共產黨","g":"C2"},{"i":661,"v":14.9,"s":"共產黨","g":"C2"},{"i":662,"v":13.8,"s":"共產黨","g":"C2"},{"i":663,"v":15.9,"s":"共產黨","g":"C2"},{"i":665,"v":17.0,"s":"共產黨","g":"C2"}
    ],
    "trend": [
      {"i":0,"v":50.6,"s":"多項式(國民黨)"},{"i":15,"v":51.6,"s":"多項式(國民黨)"},{"i":30,"v":52.1,"s":"多項式(國民黨)"},{"i":45,"v":51.6,"s":"多項式(國民黨)"},{"i":62,"v":50.5,"s":"多項式(國民黨)"},{"i":82,"v":48.8,"s":"多項式(國民黨)"},{"i":102,"v":46.7,"s":"多項式(國民黨)"},{"i":122,"v":44.9,"s":"多項式(國民黨)"},{"i":138,"v":43.9,"s":"多項式(國民黨)"},{"i":155,"v":43.2,"s":"多項式(國民黨)"},{"i":180,"v":42.6,"s":"多項式(國民黨)"},{"i":210,"v":41.9,"s":"多項式(國民黨)"},{"i":240,"v":40.6,"s":"多項式(國民黨)"},{"i":265,"v":39.4,"s":"多項式(國民黨)"},{"i":298,"v":37.7,"s":"多項式(國民黨)"},{"i":333,"v":36.2,"s":"多項式(國民黨)"},{"i":368,"v":34.9,"s":"多項式(國民黨)"},{"i":402,"v":33.4,"s":"多項式(國民黨)"},{"i":428,"v":32.9,"s":"多項式(國民黨)"},{"i":460,"v":33.0,"s":"多項式(國民黨)"},{"i":485,"v":33.8,"s":"多項式(國民黨)"},{"i":500,"v":34.6,"s":"多項式(國民黨)"},{"i":520,"v":36.3,"s":"多項式(國民黨)"},{"i":540,"v":38.5,"s":"多項式(國民黨)"},{"i":560,"v":40.8,"s":"多項式(國民黨)"},{"i":580,"v":42.6,"s":"多項式(國民黨)"},{"i":600,"v":43.6,"s":"多項式(國民黨)"},{"i":613,"v":43.7,"s":"多項式(國民黨)"},{"i":627,"v":42.9,"s":"多項式(國民黨)"},{"i":640,"v":40.5,"s":"多項式(國民黨)"},{"i":653,"v":37.3,"s":"多項式(國民黨)"},{"i":665,"v":33.8,"s":"多項式(國民黨)"},
      {"i":0,"v":40.3,"s":"多項式(民進黨)"},{"i":8,"v":34.8,"s":"多項式(民進黨)"},{"i":18,"v":31.3,"s":"多項式(民進黨)"},{"i":28,"v":29.2,"s":"多項式(民進黨)"},{"i":38,"v":28.1,"s":"多項式(民進黨)"},{"i":48,"v":28.0,"s":"多項式(民進黨)"},{"i":58,"v":28.5,"s":"多項式(民進黨)"},{"i":68,"v":29.9,"s":"多項式(民進黨)"},{"i":82,"v":32.0,"s":"多項式(民進黨)"},{"i":95,"v":34.1,"s":"多項式(民進黨)"},{"i":108,"v":36.5,"s":"多項式(民進黨)"},{"i":122,"v":39.0,"s":"多項式(民進黨)"},{"i":135,"v":41.1,"s":"多項式(民進黨)"},{"i":148,"v":42.5,"s":"多項式(民進黨)"},{"i":162,"v":43.5,"s":"多項式(民進黨)"},{"i":185,"v":44.4,"s":"多項式(民進黨)"},{"i":205,"v":44.7,"s":"多項式(民進黨)"},{"i":232,"v":45.1,"s":"多項式(民進黨)"},{"i":265,"v":45.1,"s":"多項式(民進黨)"},{"i":292,"v":45.1,"s":"多項式(民進黨)"},{"i":312,"v":45.8,"s":"多項式(民進黨)"},{"i":338,"v":46.8,"s":"多項式(民進黨)"},{"i":355,"v":48.2,"s":"多項式(民進黨)"},{"i":375,"v":49.6,"s":"多項式(民進黨)"},{"i":395,"v":51.4,"s":"多項式(民進黨)"},{"i":415,"v":53.1,"s":"多項式(民進黨)"},{"i":435,"v":54.5,"s":"多項式(民進黨)"},{"i":455,"v":55.2,"s":"多項式(民進黨)"},{"i":475,"v":55.6,"s":"多項式(民進黨)"},{"i":488,"v":55.2,"s":"多項式(民進黨)"},{"i":500,"v":54.2,"s":"多項式(民進黨)"},{"i":520,"v":51.7,"s":"多項式(民進黨)"},{"i":540,"v":48.6,"s":"多項式(民進黨)"},{"i":560,"v":44.7,"s":"多項式(民進黨)"},{"i":580,"v":41.5,"s":"多項式(民進黨)"},{"i":600,"v":39.8,"s":"多項式(民進黨)"},{"i":613,"v":39.4,"s":"多項式(民進黨)"},{"i":627,"v":40.1,"s":"多項式(民進黨)"},{"i":640,"v":42.9,"s":"多項式(民進黨)"},{"i":653,"v":50.0,"s":"多項式(民進黨)"},{"i":663,"v":57.0,"s":"多項式(民進黨)"}
    ],
    "r2": [
      {"i":486,"v":40.7,"t":"R² = 0.767","p":"K"},
      {"i":617,"v":62.2,"t":"R² = 0.8126","p":"D"}
    ],
    "years": [
      {"yr":"2006","a":0,"b":19,"c":9.5,"k":"d"},
      {"yr":"2007","a":19,"b":60,"c":39.5,"k":"l"},
      {"yr":"2008","a":60,"b":98,"c":79,"k":"d"},
      {"yr":"2009","a":98,"b":138,"c":118,"k":"l"},
      {"yr":"2010","a":138,"b":177,"c":157.5,"k":"d"},
      {"yr":"2011","a":177,"b":203,"c":190,"k":"l"},
      {"yr":"2012","a":208,"b":258,"c":233,"k":"d"},
      {"yr":"2013","a":258,"b":337,"c":297.5,"k":"l"},
      {"yr":"2014","a":337,"b":408,"c":372.5,"k":"d"},
      {"yr":"2015","a":408,"b":482,"c":445,"k":"l"},
      {"yr":"2016","a":482,"b":547,"c":514.5,"k":"d"},
      {"yr":"2017","a":550,"b":583,"c":566.5,"k":"l"},
      {"yr":"2018","a":583,"b":620,"c":601.5,"k":"d"},
      {"yr":"2019","a":620,"b":658,"c":639,"k":"l"},
      {"yr":"","a":658,"b":668,"c":663,"k":"d"}
    ],
    "months": [
      {"m":2},{"m":6},{"m":10},{"m":14},{"m":17},
      {"m":141},{"m":147},{"m":153},{"m":159},{"m":165},{"m":171},
      {"m":211},{"m":216},{"m":221},{"m":226},{"m":231},{"m":236},{"m":241},{"m":246},{"m":251},{"m":256},
      {"m":341},{"m":348},{"m":355},{"m":362},{"m":369},{"m":376},{"m":383},{"m":390},{"m":397},{"m":404},
      {"m":486},{"m":492},{"m":498},{"m":504},{"m":510},{"m":516},{"m":522},{"m":528},{"m":534},{"m":540},{"m":545},
      {"m":586},{"m":590},{"m":594},{"m":598},{"m":602},{"m":606},{"m":610},{"m":614},{"m":618},
      {"m":661},{"m":665}
    ]
  },
  "vconcat": [
    {
      "width": 668,
      "height": 380,
      "view": {"stroke": "#c8c8c8", "strokeWidth": 1},
      "encoding": {
        "x": {"field": "i", "type": "quantitative", "scale": {"domain": [0, 668], "nice": false, "zero": false}, "axis": null},
        "y": {
          "field": "v", "type": "quantitative",
          "scale": {"domain": [10, 90], "nice": false, "zero": false},
          "axis": {
            "values": [10, 20, 30, 40, 50, 60, 70, 80, 90],
            "grid": true, "gridDash": [3, 3], "gridColor": "#cfcfcf",
            "domain": true, "domainColor": "#b0b0b0",
            "ticks": false,
            "labelFont": "Liberation Sans", "labelFontSize": 13, "labelFontStyle": "italic", "labelFontWeight": "bold", "labelColor": "#222222", "labelPadding": 6,
            "title": ["指", "數", "值", "︵", "點", "︶"],
            "titleAngle": 0, "titleFont": "Noto Sans CJK TC", "titleFontSize": 11.5, "titleFontWeight": "bold", "titleColor": "#333333",
            "titleLineHeight": 16.5, "titleAlign": "center", "titleBaseline": "top", "titleX": -32, "titleY": 146
          }
        }
      },
      "layer": [
        {
          "data": {"name": "obs"},
          "mark": {"type": "line", "strokeWidth": 2.6},
          "encoding": {
            "color": {"field": "s", "type": "nominal",
              "scale": {"domain": ["國民黨", "民進黨", "共產黨", "多項式(國民黨)", "多項式(民進黨)"], "range": ["#2e3192", "#1b7d1b", "#e8191f", "#4472c4", "#3a8c3a"]},
              "legend": {"orient": "none", "legendX": 113, "legendY": 20, "direction": "horizontal", "columns": 3, "title": null,
                "symbolType": "stroke", "symbolSize": 529, "symbolStrokeWidth": 2.5, "labelFont": "Noto Sans CJK TC", "labelFontSize": 17, "labelFontWeight": "bold", "labelColor": "#111111",
                "labelOffset": 3, "columnPadding": 29, "rowPadding": 14, "gridAlign": "all", "labelLimit": 300}},
            "strokeDash": {"field": "s", "type": "nominal",
              "scale": {"domain": ["國民黨", "民進黨", "共產黨", "多項式(國民黨)", "多項式(民進黨)"], "range": [[1, 0], [1, 0], [1, 0], [4, 3], [4, 3]]},
              "legend": {"orient": "none", "legendX": 113, "legendY": 20, "direction": "horizontal", "columns": 3, "title": null,
                "symbolType": "stroke", "symbolSize": 529, "symbolStrokeWidth": 2.5, "labelFont": "Noto Sans CJK TC", "labelFontSize": 17, "labelFontWeight": "bold", "labelColor": "#111111",
                "labelOffset": 3, "columnPadding": 29, "rowPadding": 14, "gridAlign": "all", "labelLimit": 300}},
            "detail": {"field": "g", "type": "nominal"}
          }
        },
        {
          "data": {"name": "trend"},
          "mark": {"type": "line", "strokeWidth": 1.6, "interpolate": "monotone"},
          "encoding": {
            "color": {"field": "s", "type": "nominal",
              "scale": {"domain": ["國民黨", "民進黨", "共產黨", "多項式(國民黨)", "多項式(民進黨)"], "range": ["#2e3192", "#1b7d1b", "#e8191f", "#4472c4", "#3a8c3a"]}},
            "strokeDash": {"field": "s", "type": "nominal",
              "scale": {"domain": ["國民黨", "民進黨", "共產黨", "多項式(國民黨)", "多項式(民進黨)"], "range": [[1, 0], [1, 0], [1, 0], [4, 3], [4, 3]]}}
          }
        },
        {
          "data": {"name": "r2"},
          "mark": {"type": "text", "font": "Liberation Sans", "fontSize": 15, "fontStyle": "italic", "fontWeight": "bold"},
          "encoding": {
            "text": {"field": "t"},
            "color": {"condition": {"test": "datum.p === 'K'", "value": "#4472c4"}, "value": "#2e8b2e"}
          }
        }
      ]
    },
    {
      "width": 668,
      "height": 30,
      "title": {
        "text": [
          "註 1：資料引自遠見民調「台灣民心指數」政黨好感度、台灣指標民調「台灣民心動態調查」及美麗島電子報國政民調之政黨好感度等發布結果，皆為獨立之規劃設計。",
          "註 2：本項指數值介於 0 點到 100 點，指數值大於 50 點表示民眾印象總評為正向，小於 50 點表示民眾印象總評為負向，指數值愈大即代表民眾印象評價愈佳。",
          "註 3：圖中虛線表示進行高階多項式非線性迴歸分析的結果，R² 為決定係數（coefficient of determination）代表趨勢線與調查資料的適配度暨可解釋力。"
        ],
        "orient": "bottom", "anchor": "start", "font": "Noto Sans CJK TC", "fontSize": 8.8, "fontWeight": "normal", "color": "#4a4a4a", "lineHeight": 12.5, "offset": 6
      },
      "layer": [
        {
          "data": {"name": "years"},
          "mark": {"type": "rect", "stroke": "white", "strokeWidth": 0.5},
          "encoding": {
            "x": {"field": "a", "type": "quantitative", "scale": {"domain": [0, 668], "nice": false, "zero": false}, "axis": null},
            "x2": {"field": "b"},
            "y": {"datum": 0, "type": "quantitative", "scale": {"domain": [0, 30], "reverse": true, "nice": false, "zero": false}, "axis": null},
            "y2": {"datum": 15.5},
            "fill": {"condition": {"test": "datum.k === 'd'", "value": "#b3c5e6"}, "value": "#e4ebf6"}
          }
        },
        {
          "data": {"name": "months"},
          "mark": {"type": "rule", "color": "#6d8bc7", "strokeWidth": 1.3},
          "encoding": {
            "x": {"field": "m", "type": "quantitative"},
            "y": {"datum": 2, "type": "quantitative"},
            "y2": {"datum": 14}
          }
        },
        {
          "data": {"name": "years"},
          "mark": {"type": "rect", "stroke": "white", "strokeWidth": 0.5},
          "encoding": {
            "x": {"field": "a", "type": "quantitative"},
            "x2": {"field": "b"},
            "y": {"datum": 17, "type": "quantitative"},
            "y2": {"datum": 30},
            "fill": {"condition": {"test": "datum.k === 'd'", "value": "#8ca6d6"}, "value": "#d9e3f2"}
          }
        },
        {
          "data": {"name": "years"},
          "mark": {"type": "text", "font": "Liberation Sans", "fontSize": 8, "fontWeight": "bold", "color": "#1e2d5a"},
          "encoding": {
            "x": {"field": "c", "type": "quantitative"},
            "y": {"datum": 23.5, "type": "quantitative"},
            "text": {"field": "yr"}
          }
        }
      ]
    }
  ],
  "config": {
    "view": {"stroke": null},
    "font": "Noto Sans CJK TC"
  }
}
